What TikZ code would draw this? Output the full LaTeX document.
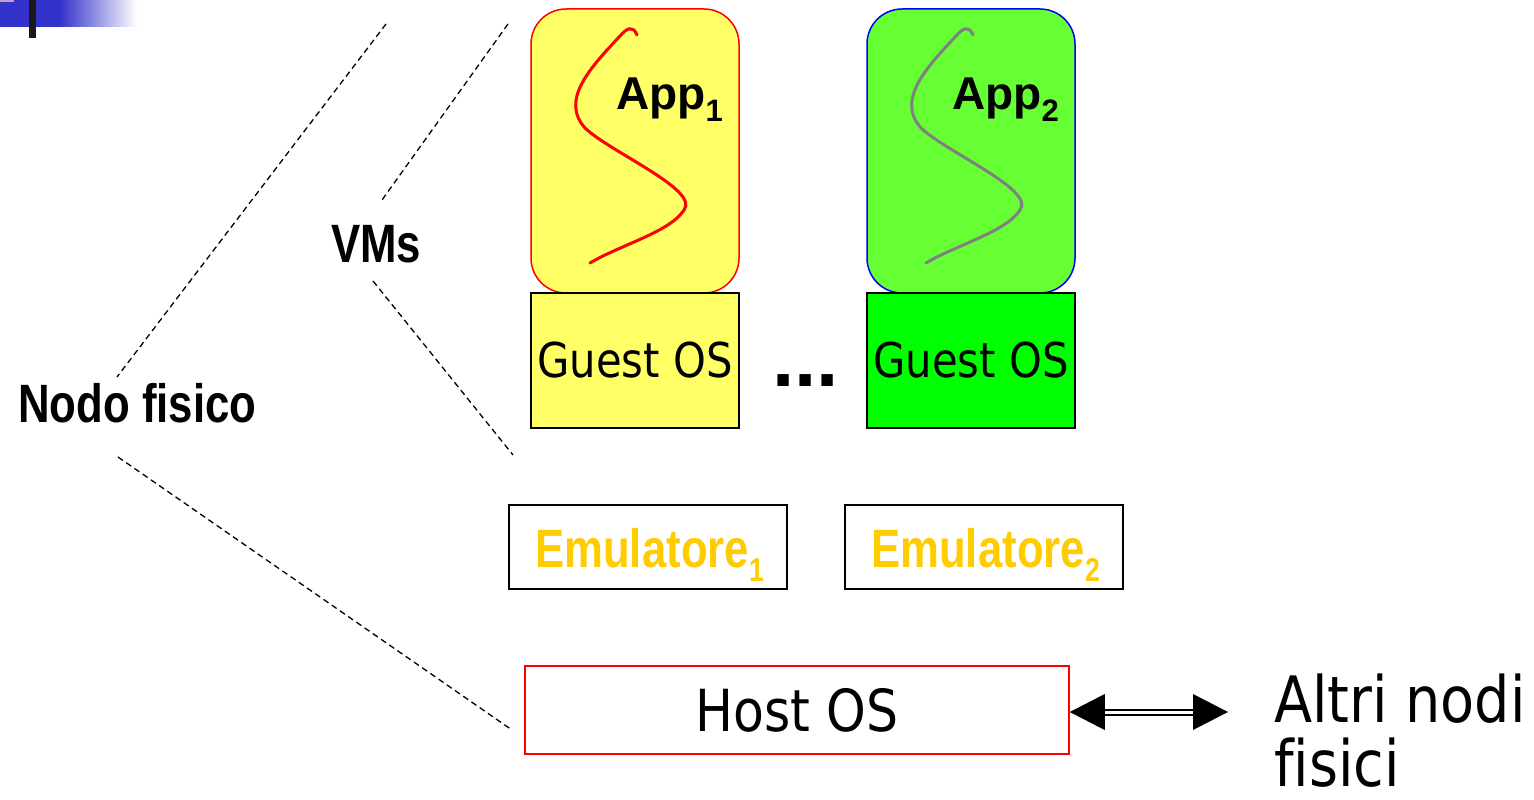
\documentclass[tikz,border=0pt]{standalone}
\usepackage{fontspec}
\setmainfont{Liberation Sans}
\newfontfamily\tahoma[FakeStretch=0.87,Ligatures=NoCommon]{DejaVu Sans}
\newfontfamily\narrowsans[FakeStretch=0.81,Ligatures=NoCommon]{Liberation Sans}
\newfontfamily\arialsans{Liberation Sans}
\definecolor{appyellow}{HTML}{FFFF66}
\definecolor{appgreen}{HTML}{66FF33}
\definecolor{guestgreen}{HTML}{00FF00}
\definecolor{emugold}{HTML}{FFCC00}
\definecolor{barblue}{HTML}{3333CC}
\definecolor{barpink}{HTML}{CC99CC}
\definecolor{squiggray}{HTML}{808080}
\newcommand\mysub[3]{\raisebox{-#2}{\fontsize{#3}{#3}\selectfont #1}}
\begin{document}
\begin{tikzpicture}[x=1pt,y=-1pt,
  appbox/.style={rounded corners=35pt, line width=1.5pt, minimum width=208pt, minimum height=284pt, inner sep=0pt},
  guestbox/.style={draw=black, line width=1.5pt, minimum width=208pt, minimum height=135pt, inner sep=0pt,
    font=\tahoma\fontsize{48}{48}\selectfont},
  emubox/.style={draw=black, line width=1.5pt, minimum width=278pt, minimum height=84pt, inner sep=0pt},
  emutext/.style={inner sep=0pt, text=emugold, font=\narrowsans\bfseries\fontsize{54}{54}\selectfont},
  applabel/.style={inner sep=0pt, font=\arialsans\bfseries\fontsize{46}{46}\selectfont},
  boldlabel/.style={inner sep=0pt, font=\narrowsans\bfseries\fontsize{54}{54}\selectfont},
  plainlabel/.style={inner sep=0pt, font=\tahoma\fontsize{64}{64}\selectfont},
  guide/.style={dashed, dash pattern=on 6pt off 4pt, line width=1.3pt},
  squiggle/.style={line width=3pt, line cap=round}
]
\useasboundingbox (0,0) rectangle (1534,800);
% header bar
\fill[barblue] (0,0) rectangle (61,27);
\shade[left color=barblue, right color=white] (60,0) rectangle (137,27);
\fill[barpink] (0,0) rectangle (14,2);
\fill[black!90] (29,0) rectangle (36,38);

% VM boxes
\node[appbox, draw=red, fill=appyellow] (app1) at (635,151) {};
\node[appbox, draw=blue, fill=appgreen] (app2) at (971,151) {};
\node[guestbox, fill=appyellow] (guest1) at (635,360.5) {Guest OS};
\node[guestbox, fill=guestgreen] (guest2) at (971,360.5) {Guest OS};

% squiggles
\draw[squiggle, red] (637,35) .. controls (633,25) and (627,28) .. (620,36)
  .. controls (590,68) and (560,100) .. (585,128)
  .. controls (610,152) and (700,190) .. (684,210)
  .. controls (670,232) and (620,245) .. (590,263);
\draw[squiggle, squiggray] (973,35) .. controls (969,25) and (963,28) .. (956,36)
  .. controls (926,68) and (896,100) .. (921,128)
  .. controls (946,152) and (1036,190) .. (1020,210)
  .. controls (1006,232) and (956,245) .. (926,263);

\node[applabel, anchor=base west] (app1lbl) at (616,110) {App\mysub{1}{12pt}{31}};
\node[applabel, anchor=base west] (app2lbl) at (952,110) {App\mysub{2}{12pt}{31}};

% dots
\node[inner sep=0pt, anchor=base west, font=\arialsans\bfseries\fontsize{80}{80}\selectfont] (dots) at (772,386) {...};

% emulators
\node[emubox] (emu1) at (648,547) {};
\node[emubox] (emu2) at (984,547) {};
\node[emutext, anchor=base west] (emu1lbl) at (535,567) {Emulatore\mysub{1}{14pt}{33}};
\node[emutext, anchor=base west] (emu2lbl) at (871,567) {Emulatore\mysub{2}{14pt}{33}};

% host
\node[draw=red, line width=1.5pt, minimum width=544pt, minimum height=88pt, inner sep=0pt,
  font=\tahoma\fontsize{58}{58}\selectfont] (host) at (797,710) {Host OS};

% double arrow
\coordinate (far) at (1228,712);
\coordinate (near) at (host.east |- far);
\draw[line width=2pt, double=white, double distance=3pt] ([xshift=33pt]near) -- ([xshift=-33pt]far);
\fill[black] (near) -- ++(35,-18) -- ++(0,36) -- cycle;
\fill[black] (far) -- ++(-35,-18) -- ++(0,36) -- cycle;

\node[plainlabel, anchor=base west] (altri) at (1274,722) {Altri nodi};
\node[plainlabel, anchor=base west] (fisici) at (1274,786) {fisici};

% labels
\node[boldlabel, anchor=base west] (vms) at (331,262) {VMs};
\node[boldlabel, anchor=base west] (nodo) at (18,422) {Nodo fisico};

% guide lines
\coordinate (g1a) at (386,24);
\coordinate (g1b) at (117,377);
\coordinate (g2a) at (508,24);
\coordinate (g2b) at (382,200);
\coordinate (g3a) at (373,281);
\coordinate (g3b) at (513,455);
\coordinate (g4a) at (118,457);
\coordinate (g4b) at (512,730);
\draw[guide] (g1a) -- (g1b);
\draw[guide] (g2a) -- (g2b);
\draw[guide] (g3a) -- (g3b);
\draw[guide] (g4a) -- (g4b);
\end{tikzpicture}
\end{document}
